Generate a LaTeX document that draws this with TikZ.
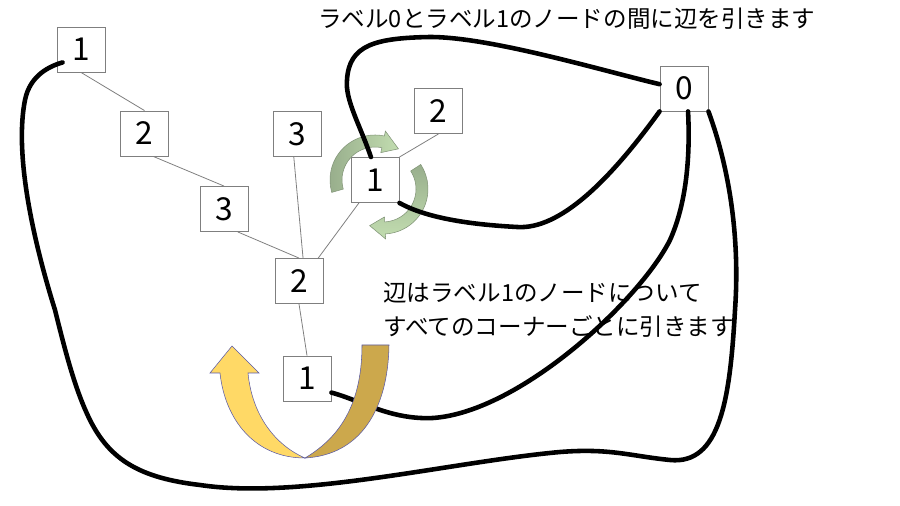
\documentclass[tikz,border=0pt]{standalone}
\usepackage{fontspec}
\setmainfont{Noto Sans CJK JP}
\usetikzlibrary{positioning, shapes.geometric, arrows.meta}
\usetikzlibrary{calc}
\definecolor{ltgreen}{HTML}{C2DDB0}
\definecolor{dkgreen}{HTML}{98AE8C}
\definecolor{ltyellow}{HTML}{FFD966}
\definecolor{dkyellow}{HTML}{CCA84C}
\definecolor{edgegray}{HTML}{7F7F7F}

\begin{document}
\begin{tikzpicture}[x=0.02cm, y=-0.02cm,
  box/.style={rectangle, draw=edgegray, fill=white, line width=0.5pt, minimum width=0.96cm, minimum height=0.9cm, inner sep=0pt, font=\fontsize{18}{18}\selectfont},
  tree/.style={draw=edgegray, line width=0.45pt},
  corner/.style={line width=2.6pt, line cap=round},
  turn/.style={draw=dkgreen!85!black, line width=0.3pt},
  uturn/.style={draw=gray!70!blue, line width=0.3pt},
  label/.style={anchor=west, inner sep=0pt, font=\fontsize{13.4}{19}\selectfont}]
\useasboundingbox (0,0) rectangle (900,506);
\node[box] (n1a) at (81,49.5) {1};
\node[box] (n2a) at (144.5,133.5) {2};
\node[box] (n3a) at (224,209) {3};
\node[box] (n3b) at (297,134) {3};
\node[box] (n2b) at (299,281) {2};
\node[box] (n1b) at (375,180) {1};
\node[box] (n2c) at (438.5,111) {2};
\node[box] (n1c) at (307,378.5) {1};
\node[box] (n0) at (684,88.5) {0};
\draw[tree] (n1a.south) -- (n2a.north);
\draw[tree] (n2a.-69) -- (n3a.north);
\draw[tree] (n3a.-59) -- (n2b.north);
\draw[tree] (n3b.-98) -- (n2b.80);
\draw[tree] (n2b.50) -- (n1b.235);
\draw[tree] (n1b.north east) -- (n2c.south);
\draw[tree] (n2b.south) -- (n1c.north);
% turning arrows round the corner node
\coordinate (c1) at (375,180);
\coordinate (c2) at (383,189);
\draw[turn, left color=dkgreen, right color=ltgreen] ($(c1)+(-196:33)$) arc[start angle=-196, end angle=-78, radius=33] -- ($(c1)+(-78:28)$) -- ($(c1)+(-53:39)$) -- ($(c1)+(-78:50)$) -- ($(c1)+(-78:45)$) arc[start angle=-78, end angle=-196, radius=45] -- cycle;
\draw[turn, top color=dkgreen, bottom color=ltgreen] ($(c2)+(-33:33)$) arc[start angle=-33, end angle=87, radius=33] -- ($(c2)+(87:28)$) -- ($(c2)+(110:39)$) -- ($(c2)+(87:50)$) -- ($(c2)+(87:45)$) arc[start angle=87, end angle=-33, radius=45] -- cycle;
% edges to label 0
\draw[corner] (n1b.100) .. controls (360,125) and (345,100) .. (347,80) .. controls (349,45) and (375,38) .. (430,37) .. controls (490,37) and (600,70) .. (n0.170);
\draw[corner] (n1b.south east) .. controls (430,220) and (480,225) .. (517,227) .. controls (560,230) and (610,180) .. (n0.south west);
\draw[corner] (n1c.-30) .. controls (360,400) and (390,420) .. (433,418) .. controls (520,412) and (640,300) .. (670,240) .. controls (688,200) and (690,150) .. (n0.-80);
\draw[corner] (n0.south east) .. controls (730,170) and (740,240) .. (735,310) .. controls (730,400) and (720,465) .. (670,460) .. controls (630,456) and (610,448) .. (560,452) .. controls (450,462) and (300,500) .. (200,485) .. controls (140,478) and (110,460) .. (90,420) .. controls (75,390) and (65,350) .. (55,310) .. controls (30,230) and (15,150) .. (25,100) .. controls (30,75) and (50,66) .. ([shift={(6,-10)}]n1a.south west);
% u-turn arrow
\draw[uturn, fill=dkyellow] (362,345) -- (389,345) .. controls (388,410) and (360,455) .. (305,458) .. controls (335,440) and (362,410) .. (362,345) -- cycle;
\draw[uturn, fill=ltyellow] (220,373) -- (210,373) -- (232,346) -- (259,373) -- (248,373) .. controls (252,415) and (275,445) .. (305,458) .. controls (255,458) and (225,420) .. (220,373) -- cycle;
\node[label] (title) at (318,19) {ラベル0とラベル1のノードの間に辺を引きます};
\node[label, align=left] (note) at (383,310) {辺はラベル1のノードについて\\すべてのコーナーごとに引きます};
\end{tikzpicture}
\end{document}
